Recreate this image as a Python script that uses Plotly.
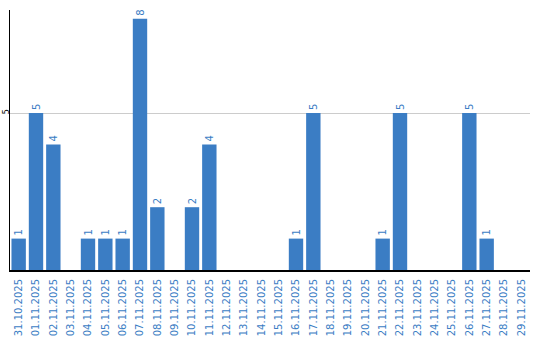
import plotly.graph_objects as go

dates = ["31.10.2025", "01.11.2025", "02.11.2025", "03.11.2025", "04.11.2025",
         "05.11.2025", "06.11.2025", "07.11.2025", "08.11.2025", "09.11.2025",
         "10.11.2025", "11.11.2025", "12.11.2025", "13.11.2025", "14.11.2025",
         "15.11.2025", "16.11.2025", "17.11.2025", "18.11.2025", "19.11.2025",
         "20.11.2025", "21.11.2025", "22.11.2025", "23.11.2025", "24.11.2025",
         "25.11.2025", "26.11.2025", "27.11.2025", "28.11.2025", "29.11.2025"]
values = [1, 5, 4, 0, 1, 1, 1, 8, 2, 0, 2, 4, 0, 0, 0, 0, 1, 5, 0, 0,
          0, 1, 5, 0, 0, 0, 5, 1, 0, 0]

BLUE = "#3b7dc4"
labels = [str(v) if v else "" for v in values]

fig = go.Figure(go.Bar(
    x=dates, y=values, text=labels, textposition="outside", textangle=-90,
    textfont=dict(family="DejaVu Sans", size=10, color=BLUE),
    marker=dict(color=BLUE, line=dict(width=0)), cliponaxis=False,
))
fig.update_layout(
    width=540, height=340, margin=dict(l=10, r=10, t=10, b=70),
    paper_bgcolor="white", plot_bgcolor="white", bargap=0.17, showlegend=False,
    font=dict(family="DejaVu Sans"),
)
fig.update_xaxes(type="category", tickangle=-90, showline=True, linecolor="black",
                 linewidth=2, showgrid=False, ticks="", automargin=False,
                 ticklabelstandoff=3,
                 tickfont=dict(family="DejaVu Sans", size=10, color=BLUE))
fig.update_yaxes(range=[0, 8.28], tickvals=[5], tickangle=-90, showline=True,
                 linecolor="black", linewidth=1, showgrid=True, gridcolor="#cccccc",
                 zeroline=False, ticks="", automargin=False, ticklabelstandoff=-3,
                 tickfont=dict(family="DejaVu Sans", size=8, color="black"))
fig.write_html("out.html")
